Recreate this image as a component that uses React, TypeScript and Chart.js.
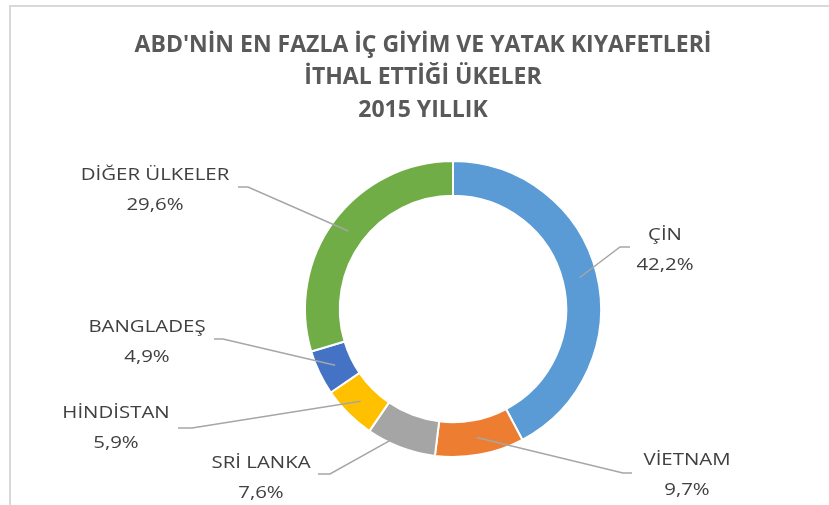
import React, { useEffect, useRef } from "react";
import { Chart, registerables } from "chart.js";

Chart.register(...registerables);

const TITLE_LINES = [
  "ABD'NİN EN FAZLA İÇ GİYİM VE YATAK KIYAFETLERİ",
  "İTHAL ETTİĞİ ÜKELER",
  "2015 YILLIK",
];
const COUNTRIES = ["ÇİN", "VİETNAM", "SRİ LANKA", "HİNDİSTAN", "BANGLADEŞ", "DİĞER ÜLKELER"];
const SHARES = [42.2, 9.7, 7.6, 5.9, 4.9, 29.6];
const COLORS = ["#5B9BD5", "#ED7D31", "#A5A5A5", "#FFC000", "#4472C4", "#70AD47"];

// label layout (text centre x, first-line y) and leader elbow (x, y, end x)
const LABEL_X = [665, 687, 261, 116, 147, 155];
const LABEL_Y = [235, 460, 463, 413, 327, 175];
const ELBOW_X = [620, 623, 330, 192, 223, 248];
const ELBOW_Y = [247, 473, 474, 428, 339, 187];
const END_X = [630, 632, 318, 178, 214, 238];

const LABEL_FONT = "17px 'Open Sans', sans-serif";
const LABEL_STRETCH = 1.2;
const TITLE_FONT = "bold 23px 'Open Sans', sans-serif";

const fmt = (v: number) => v.toFixed(1).replace(".", ",") + "%";

function stretchedText(ctx: CanvasRenderingContext2D, text: string, x: number, y: number) {
  ctx.save();
  ctx.translate(x, y);
  ctx.scale(LABEL_STRETCH, 1);
  ctx.fillText(text, 0, 0);
  ctx.restore();
}

const decorPlugin = {
  id: "decor",
  beforeDraw(chart: any) {
    const ctx = chart.ctx;
    ctx.save();
    ctx.fillStyle = "#ffffff";
    ctx.fillRect(0, 0, chart.width, chart.height);
    ctx.strokeStyle = "#D9D9D9";
    ctx.lineWidth = 2;
    ctx.beginPath();
    ctx.moveTo(10, 5);
    ctx.lineTo(10, chart.height);
    ctx.moveTo(9, 6);
    ctx.lineTo(chart.width, 6);
    ctx.stroke();
    // title
    ctx.fillStyle = "#595959";
    ctx.font = TITLE_FONT;
    ctx.textAlign = "center";
    ctx.textBaseline = "middle";
    TITLE_LINES.forEach((t, i) => ctx.fillText(t, 423, 45 + i * 32.5));
    ctx.restore();
  },
  afterDatasetsDraw(chart: any) {
    const ctx = chart.ctx;
    const meta = chart.getDatasetMeta(0);
    ctx.save();
    meta.data.forEach((arc: any, i: number) => {
      const p = arc.getProps(["x", "y", "startAngle", "endAngle", "innerRadius", "outerRadius"], true);
      const mid = (p.startAngle + p.endAngle) / 2;
      const r = (p.innerRadius + p.outerRadius) / 2;
      const sx = p.x + Math.cos(mid) * r;
      const sy = p.y + Math.sin(mid) * r;
      ctx.strokeStyle = "#A6A6A6";
      ctx.lineWidth = 1.5;
      ctx.beginPath();
      ctx.moveTo(sx, sy);
      ctx.lineTo(ELBOW_X[i], ELBOW_Y[i]);
      ctx.lineTo(END_X[i], ELBOW_Y[i]);
      ctx.stroke();
      ctx.fillStyle = "#404040";
      ctx.font = LABEL_FONT;
      ctx.textAlign = "center";
      ctx.textBaseline = "middle";
      stretchedText(ctx, chart.data.labels[i], LABEL_X[i], LABEL_Y[i]);
      stretchedText(ctx, fmt(chart.data.datasets[0].data[i]), LABEL_X[i], LABEL_Y[i] + 30);
    });
    ctx.restore();
  },
};

export default function App() {
  const ref = useRef<HTMLCanvasElement | null>(null);
  useEffect(() => {
    if (!ref.current) return;
    const chart = new Chart(ref.current, {
      type: "doughnut",
      data: {
        labels: COUNTRIES,
        datasets: [
          {
            data: SHARES,
            backgroundColor: COLORS,
            borderColor: "#ffffff",
            borderWidth: 2,
          },
        ],
      },
      options: {
        responsive: false,
        animation: false,
        devicePixelRatio: 1,
        radius: 148,
        cutout: "76.5%",
        layout: { padding: { left: 306, right: 229, top: 162, bottom: 49 } },
        plugins: {
          legend: { display: false },
          title: { display: false },
          tooltip: { enabled: false },
        },
        events: [],
      },
      plugins: [decorPlugin],
    });
    return () => chart.destroy();
  }, []);
  return (
    <div style={{ position: "absolute", left: 0, top: 0, width: 829, height: 505 }}>
      <canvas ref={ref} width={829} height={505} style={{ display: "block" }} />
    </div>
  );
}
